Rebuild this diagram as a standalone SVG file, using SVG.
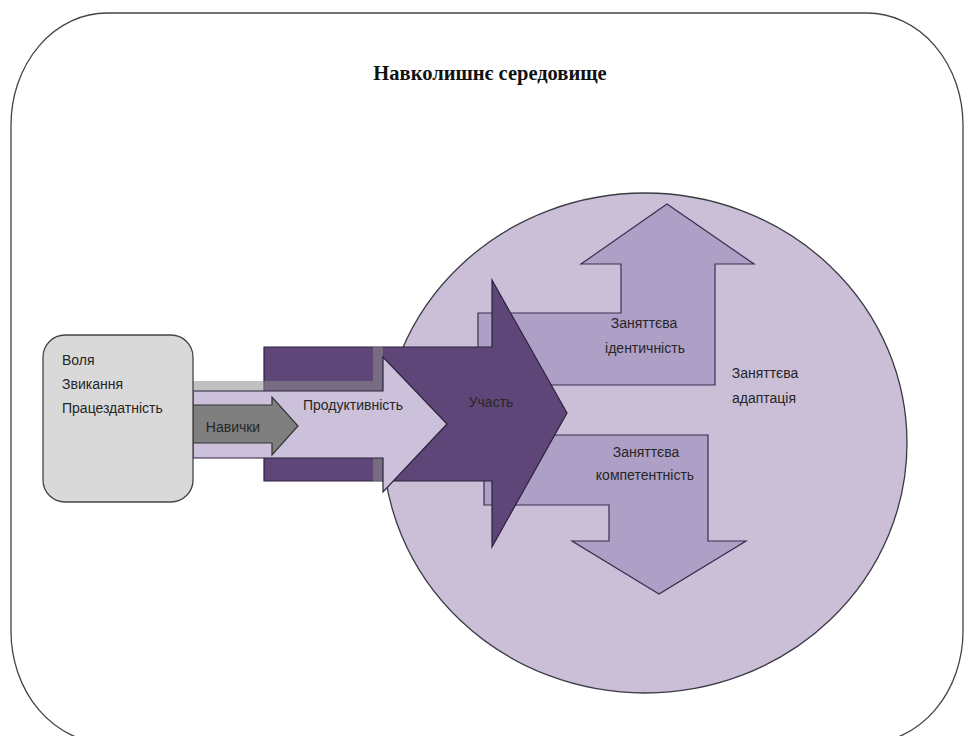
<svg xmlns="http://www.w3.org/2000/svg" width="966" height="736" viewBox="0 0 966 736">
<style>
.t{font-family:"Liberation Sans","Noto Sans",sans-serif;font-size:14px;fill:#262626}
.ttl{font-family:"Liberation Serif",serif;font-size:20.5px;font-weight:bold;fill:#111}
.mid{fill:#ae9fc6;stroke:#3a2d4f;stroke-width:1.2}
.dark{fill:#5f4679;stroke:#2c213d;stroke-width:1.2}
.light{fill:#ccc1db;stroke:#2c213d;stroke-width:1.2}
.band{fill:#8c8c8c;opacity:0.55}
</style>
<rect width="966" height="736" fill="#ffffff"/>
<g id="environment">
<rect x="11" y="13" width="952" height="730" rx="96" ry="112" fill="#ffffff" stroke="#444" stroke-width="1.3"/>
<text class="ttl" x="490" y="80" text-anchor="middle">Навколишнє середовище</text>
</g>
<g id="adaptation">
<ellipse cx="645" cy="443" rx="262" ry="250" fill="#cbbfd8" stroke="#3a3a44" stroke-width="1.3"/>
<text class="t" x="765" y="378" text-anchor="middle">Заняттєва</text>
<text class="t" x="764" y="403" text-anchor="middle">адаптація</text>
</g>
<g id="identity">
<polygon class="mid" points="478,313 621,313 621,264 581,264 667,204 754,264 715,264 715,385 478,385"/>
<text class="t" x="644" y="328" text-anchor="middle">Заняттєва</text>
<text class="t" x="645" y="353" text-anchor="middle">ідентичність</text>
</g>
<g id="competence">
<polygon class="mid" points="484,435 708,435 708,541 746,541 659,594 572,541 609,541 609,505 484,505"/>
<text class="t" x="646" y="457" text-anchor="middle">Заняттєва</text>
<text class="t" x="645" y="480" text-anchor="middle">компетентність</text>
</g>
<g id="participation">
<polygon class="dark" points="264,347 492,347 492,280 567,413 492,547 492,481 264,481"/>
<text class="t" x="491" y="407" text-anchor="middle">Участь</text>
</g>
<g id="connectors">
<rect class="band" x="193" y="381" width="190" height="10"/>
<rect class="band" x="373" y="347" width="10" height="34"/>
<rect class="band" x="373" y="458" width="10" height="23"/>
</g>
<g id="productivity">
<polygon class="light" points="193,391 383,391 383,357 447,424 383,492 383,458 193,458"/>
<text class="t" x="353" y="410" text-anchor="middle">Продуктивність</text>
</g>
<g id="skills">
<polygon fill="#7f7f7f" stroke="#333" stroke-width="1.2" points="193,405 272,405 272,397 298,426 272,455 272,443 193,443"/>
<text class="t" x="233" y="432" text-anchor="middle">Навички</text>
</g>
<g id="personal">
<rect x="43" y="335" width="150" height="167" rx="22" ry="22" fill="#d9d9d9" stroke="#444" stroke-width="1.3"/>
<text class="t" x="62" y="365">Воля</text>
<text class="t" x="62" y="389">Звикання</text>
<text class="t" x="62" y="413">Працездатність</text>
</g>
</svg>
